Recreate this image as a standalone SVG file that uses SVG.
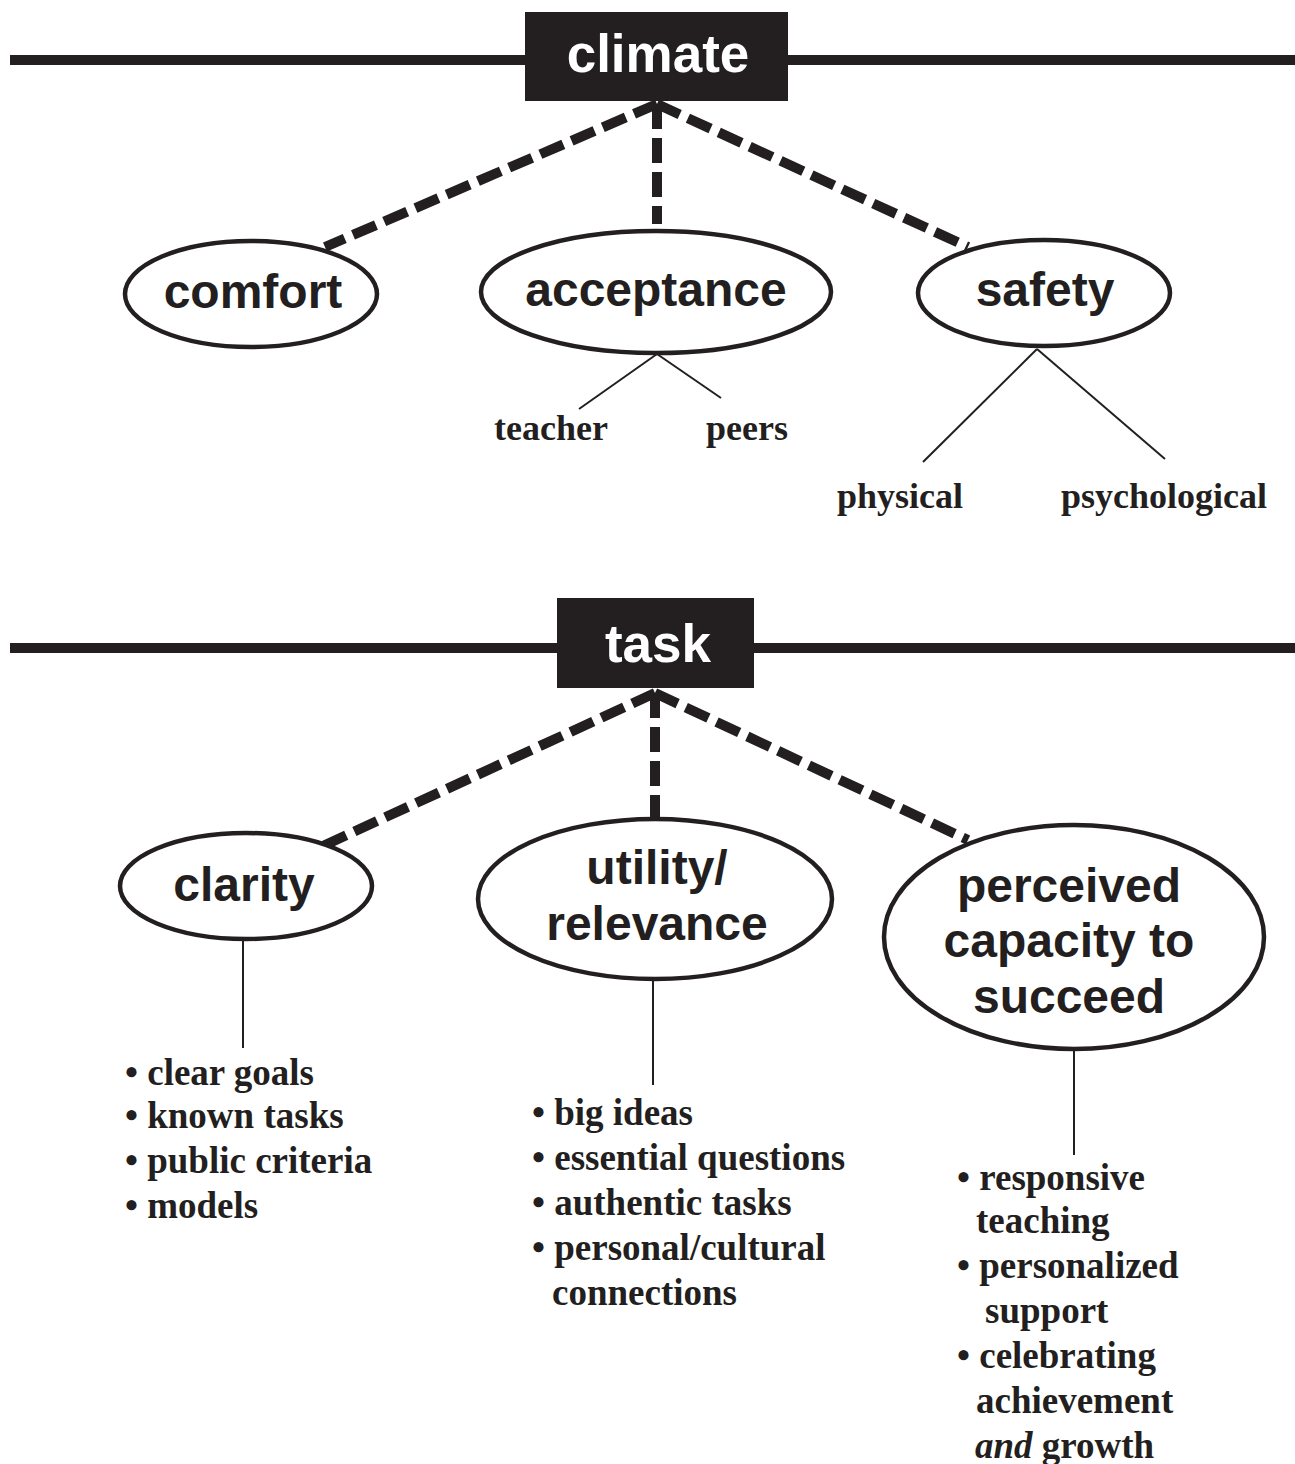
<svg xmlns="http://www.w3.org/2000/svg" width="1295" height="1464" viewBox="0 0 1295 1464">
<style>
.bar{stroke:#231f20;stroke-width:10;fill:none}
.dash{stroke:#231f20;stroke-width:10;fill:none;stroke-dasharray:25 9}
.thin{stroke:#231f20;stroke-width:2;fill:none}
.ell{fill:#fff;stroke:#231f20;stroke-width:4.5}
.hbox{fill:#231f20}
.htxt{font-family:"Liberation Sans",Arial,sans-serif;font-weight:bold;font-size:53px;fill:#fff;text-anchor:middle}
.ntxt{font-family:"Liberation Sans",Arial,sans-serif;font-weight:bold;font-size:48px;fill:#231f20;text-anchor:middle}
.stxt{font-family:"Liberation Serif","Times New Roman",serif;font-weight:bold;font-size:36px;fill:#231f20}
.ltxt{font-family:"Liberation Serif","Times New Roman",serif;font-weight:bold;font-size:37px;fill:#231f20}
</style>
<rect width="1295" height="1464" fill="#fff"/>
<g id="connectors">
<line class="bar" x1="10" y1="60" x2="1295" y2="60"/>
<line class="bar" x1="10" y1="648" x2="1295" y2="648"/>
<line class="dash" x1="657" y1="104" x2="325" y2="247"/>
<line class="dash" x1="657" y1="104" x2="657" y2="224"/>
<line class="dash" x1="657" y1="104" x2="968" y2="247"/>
<line class="dash" x1="655" y1="693" x2="323" y2="846"/>
<line class="dash" x1="655" y1="693" x2="655" y2="818"/>
<line class="dash" x1="655" y1="693" x2="968" y2="840"/>
<line class="thin" x1="657" y1="354" x2="579" y2="409"/>
<line class="thin" x1="657" y1="354" x2="721" y2="398"/>
<line class="thin" x1="1037" y1="349" x2="923" y2="462"/>
<line class="thin" x1="1037" y1="349" x2="1165" y2="459"/>
<line class="thin" x1="243" y1="940" x2="243" y2="1048"/>
<line class="thin" x1="653" y1="980" x2="653" y2="1085"/>
<line class="thin" x1="1074" y1="1050" x2="1074" y2="1155"/>
</g>
<g id="climate">
<rect class="hbox" x="525" y="12" width="263" height="89"/>
<text class="htxt" x="658" y="72">climate</text>
</g>
<g id="comfort">
<ellipse class="ell" cx="251" cy="294" rx="126" ry="53"/>
<text class="ntxt" x="253" y="308">comfort</text>
</g>
<g id="acceptance">
<ellipse class="ell" cx="656" cy="292" rx="175" ry="61"/>
<text class="ntxt" x="656" y="306">acceptance</text>
</g>
<g id="safety">
<ellipse class="ell" cx="1044" cy="293" rx="126" ry="53"/>
<text class="ntxt" x="1045" y="306">safety</text>
</g>
<g id="teacher"><text class="stxt" x="494" y="440">teacher</text></g>
<g id="peers"><text class="stxt" x="706" y="440">peers</text></g>
<g id="physical"><text class="stxt" x="837" y="508">physical</text></g>
<g id="psychological"><text class="stxt" x="1061" y="508">psychological</text></g>
<g id="task">
<rect class="hbox" x="557" y="598" width="197" height="90"/>
<text class="htxt" x="658" y="662">task</text>
</g>
<g id="clarity">
<ellipse class="ell" cx="246" cy="886" rx="126" ry="53"/>
<text class="ntxt" x="244" y="901">clarity</text>
</g>
<g id="utility">
<ellipse class="ell" cx="655" cy="899" rx="177" ry="80"/>
<text class="ntxt" x="657" y="884">utility/</text>
<text class="ntxt" x="657" y="940">relevance</text>
</g>
<g id="perceived">
<ellipse class="ell" cx="1074" cy="937" rx="190" ry="112"/>
<text class="ntxt" x="1069" y="902">perceived</text>
<text class="ntxt" x="1069" y="957">capacity to</text>
<text class="ntxt" x="1069" y="1013">succeed</text>
</g>
<g id="clarity-list">
<text class="ltxt" x="125" y="1085">• clear goals</text>
<text class="ltxt" x="125" y="1128">• known tasks</text>
<text class="ltxt" x="125" y="1173">• public criteria</text>
<text class="ltxt" x="125" y="1218">• models</text>
</g>
<g id="utility-list">
<text class="ltxt" x="532" y="1125">• big ideas</text>
<text class="ltxt" x="532" y="1170">• essential questions</text>
<text class="ltxt" x="532" y="1215">• authentic tasks</text>
<text class="ltxt" x="532" y="1260">• personal/cultural</text>
<text class="ltxt" x="552" y="1305">connections</text>
</g>
<g id="perceived-list">
<text class="ltxt" x="957" y="1190">• responsive</text>
<text class="ltxt" x="976" y="1233">teaching</text>
<text class="ltxt" x="957" y="1278">• personalized</text>
<text class="ltxt" x="985" y="1323">support</text>
<text class="ltxt" x="957" y="1368">• celebrating</text>
<text class="ltxt" x="976" y="1413">achievement</text>
<text class="ltxt" x="975" y="1458"><tspan font-style="italic">and</tspan> growth</text>
</g>
</svg>
